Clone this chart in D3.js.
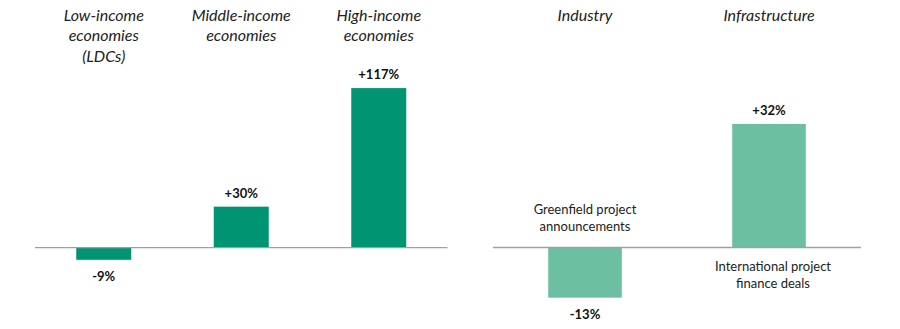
<!DOCTYPE html>
<html>
<head>
<meta charset="utf-8">
<script src="https://cdn.jsdelivr.net/npm/d3@7"></script>
<style>
  html, body { margin: 0; padding: 0; background: #fff; }
  svg { display: block; }
</style>
</head>
<body>
<svg id="chart" width="900" height="329"></svg>
<script>
// Change by income group
const incomeGroups = [["Low-income", "economies", "(LDCs)"], ["Middle-income", "economies"], ["High-income", "economies"]];
const incomeKeys = ["low", "middle", "high"];
const incomeValues = [-9, 30, 117];

// Change by sector
const sectorKeys = ["Industry", "Infrastructure"];
const sectorValues = [-13, 32];
const sectorNotes = [["Greenfield project", "announcements"], ["International project", "finance deals"]];

const fmt = v => (v > 0 ? "+" : "") + v + "%";

const svg = d3.select("#chart");
const font = "Lato, 'Open Sans', sans-serif";
const baseY = 247.5;

function panel(opts) {
  const g = svg.append("g");
  const x = d3.scaleBand().domain(opts.keys).range(opts.xRange)
    .paddingInner(0.6).paddingOuter(0.3);
  const y = d3.scaleLinear().domain(opts.yDomain).range(opts.yRange);

  const data = opts.keys.map((k, i) => ({ k, v: opts.values[i], i }));

  g.selectAll("rect").data(data).join("rect")
    .attr("x", d => x(d.k))
    .attr("width", x.bandwidth())
    .attr("y", d => Math.min(y(d.v), y(0)))
    .attr("height", d => Math.abs(y(d.v) - y(0)))
    .attr("fill", opts.color);

  // zero line
  g.append("line")
    .attr("x1", opts.xRange[0]).attr("x2", opts.xRange[1])
    .attr("y1", y(0)).attr("y2", y(0))
    .attr("stroke", "#a0a0a0").attr("stroke-width", 1.3);

  // value labels
  g.selectAll("text.val").data(data).join("text")
    .attr("class", "val")
    .attr("x", d => x(d.k) + x.bandwidth() / 2)
    .attr("y", d => d.v >= 0 ? y(d.v) - 9 : y(d.v) + 21)
    .attr("text-anchor", "middle")
    .attr("font-family", font).attr("font-weight", "bold")
    .attr("font-size", 13).attr("fill", "#111")
    .text(d => fmt(d.v));

  // category headers
  const hdr = g.selectAll("text.hdr").data(data).join("text")
    .attr("class", "hdr")
    .attr("text-anchor", "middle")
    .attr("font-family", font).attr("font-style", "italic")
    .attr("font-size", 16).attr("fill", "#222");
  hdr.each(function(d) {
    const lines = opts.headers[d.i];
    d3.select(this).selectAll("tspan").data(lines).join("tspan")
      .attr("x", x(d.k) + x.bandwidth() / 2)
      .attr("y", (l, j) => 20.5 + j * 20.5)
      .text(l => l);
  });
  return { g, x, y, data };
}

panel({
  keys: incomeKeys, values: incomeValues, headers: incomeGroups,
  xRange: [35, 447.5], yDomain: [-20, 120], yRange: [baseY + 27.3, baseY - 163.5],
  color: "#009473"
});

const right = panel({
  keys: sectorKeys, values: sectorValues, headers: sectorKeys.map(s => [s]),
  xRange: [493, 861], yDomain: [-15, 35], yRange: [baseY + 57.9, baseY - 135.1],
  color: "#6cbfa0"
});

// series notes beside the bars
right.g.selectAll("text.note").data(right.data).join("text")
  .attr("class", "note")
  .attr("text-anchor", "middle")
  .attr("font-family", font).attr("font-size", 13).attr("fill", "#222")
  .each(function(d) {
    const startY = d.v < 0 ? 214 : 271;
    d3.select(this).selectAll("tspan").data(sectorNotes[d.i]).join("tspan")
      .attr("x", right.x(d.k) + right.x.bandwidth() / 2 + (d.v < 0 ? 0 : 4))
      .attr("y", (l, j) => startY + j * 16.5)
      .text(l => l);
  });
</script>
</body>
</html>
